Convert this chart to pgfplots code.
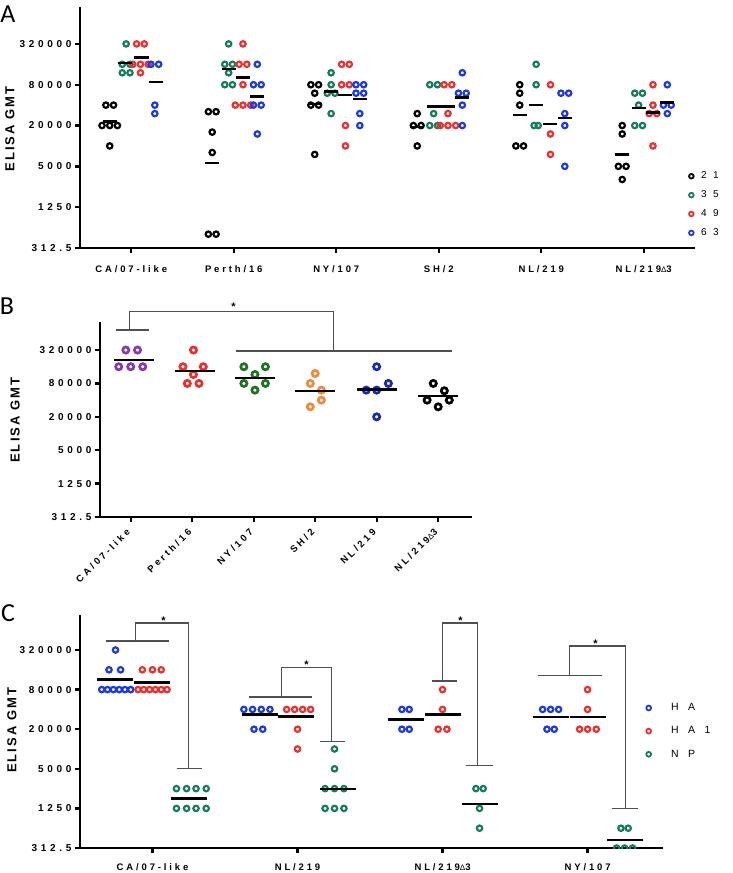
\documentclass[border=0pt]{standalone}
\usepackage{fontspec}
\setmainfont{Liberation Sans}
\newfontfamily\xtfont[LetterSpace=30]{Liberation Sans}
\newfontfamily\ytfont[LetterSpace=37]{Liberation Sans}
\newfontfamily\labfont[LetterSpace=16]{Liberation Sans}
\newfontfamily\legAfont[LetterSpace=65]{Liberation Sans}
\newfontfamily\legCfont[LetterSpace=90]{Liberation Sans}
\newfontfamily\panelfont{Carlito}
\usepackage{pgfplots}
\pgfplotsset{compat=1.18}

\definecolor{agreen}{RGB}{22,125,92}
\definecolor{ared}{RGB}{236,48,48}
\definecolor{ablue}{RGB}{28,58,226}
\definecolor{bpurple}{RGB}{136,58,176}
\definecolor{bgreen}{RGB}{26,116,32}
\definecolor{borange}{RGB}{242,138,62}
\definecolor{bblue}{RGB}{22,42,186}
\definecolor{brk}{RGB}{80,80,80}

\newcommand{\dlt}{{\mdseries\fontsize{8}{8}\selectfont Δ}}

\pgfplotsset{
  panel/.style={
    scale only axis,
    axis lines*=left,
    axis line style={line width=2.6pt, black},
    tick align=outside, major tick length=5pt,
    tick style={line width=2.3pt, black},
    minor tick num=0,
    ymin=312.5,
    ytick={312.5,1250,5000,20000,80000,320000},
    yticklabels={312.5,1250,5000,20000,80000,320000},
    yticklabel style={font=\ytfont\bfseries\fontsize{10}{12}\selectfont},
    xticklabel style={font=\xtfont\bfseries\fontsize{9.5}{11}\selectfont},
    ylabel={ELISA GMT},
    ylabel style={font=\labfont\bfseries\fontsize{13}{15}\selectfont, anchor=center},
    clip mode=individual,
  },
  dots/.style={only marks, mark=o, color=#1,
    mark size=2.7pt, mark options={line width=2.2pt, draw=#1}},
  bdots/.style={only marks, mark=o, color=#1,
    mark size=3.1pt, mark options={line width=2.7pt, draw=#1}},
  means/.style={only marks, mark=-, black, mark size=#1,
    mark options={line width=2.5pt, black}, forget plot},
}

\begin{document}
\begin{tikzpicture}
\useasboundingbox (0,0) rectangle (733pt,-873pt);

\node[font=\panelfont\fontsize{26}{26}\selectfont] at (8pt,-14pt) {A};
\node[font=\panelfont\fontsize{26}{26}\selectfont] at (7pt,-306pt) {B};
\node[font=\panelfont\fontsize{26}{26}\selectfont] at (8pt,-613pt) {C};

% ---------------- panel A
\begin{axis}[ymode=log, log basis y=2, panel,
  at={(80pt,-248pt)}, anchor=south west,
  width=615pt, height=241pt,
  xmin=0.5, xmax=6.5, ymax=1.12e6,
  xtick={1,2,3,4,5,6},
  xticklabels={CA/07-like, Perth/16, NY/107, SH/2, NL/219, NL/219\dlt3},
  xticklabel style={yshift=-9pt},
  ylabel style={at={(axis description cs:-0.114,0.494)}},
  legend cell align=left,
  legend image post style={mark size=2.3pt, mark options={line width=1.8pt}},
  legend style={at={(axis description cs:0.990,0.3245)}, anchor=north west,
    draw=none, fill=none, inner sep=0pt, row sep=6.4pt, column sep=5.5pt,
    font=\legAfont\fontsize{10}{12}\selectfont},
]
\addplot[dots=black] table {
0.7525 40000
0.8275 40000
0.715 20000
0.79 20000
0.865 20000
0.79 10000
1.7525 32000
1.8275 32000
1.79 16000
1.79 8000
1.7525 500
1.8275 500
2.7525 80000
2.8275 80000
2.79 60000
2.7525 40000
2.8275 40000
2.79 7500
3.79 30000
3.7525 20000
3.8275 20000
3.79 10000
4.79 80000
4.79 60000
4.79 40000
4.7525 10000
4.8275 10000
5.79 20000
5.79 15000
5.7525 5000
5.8275 5000
5.79 3200
};
\addplot[dots=agreen] table {
0.95 320000
0.9125 160000
0.9875 160000
0.9125 120000
0.9875 120000
1.95 320000
1.9125 160000
1.9875 160000
1.95 120000
1.9125 80000
1.9875 80000
2.95 120000
2.95 80000
2.9125 60000
2.9875 60000
2.95 30000
3.9125 80000
3.9875 80000
3.95 30000
3.9125 20000
3.9875 20000
4.95 160000
4.95 80000
4.93 20000
4.97 20000
5.9125 60000
5.9875 60000
5.95 40000
5.9125 20000
5.9875 20000
};
\addplot[dots=ared] table {
1.0525 320000
1.1275 320000
1.015 160000
1.09 160000
1.165 160000
1.09 120000
2.09 320000
2.0525 160000
2.1275 160000
2.09 80000
2.015 40000
2.09 40000
2.165 40000
3.0525 160000
3.1275 160000
3.0525 80000
3.1275 80000
3.09 20000
3.09 10000
4.0525 80000
4.1275 80000
4.09 30000
4.015 20000
4.09 20000
4.165 20000
5.09 80000
5.09 15000
5.09 7500
6.09 80000
6.09 40000
6.0525 30000
6.1275 30000
6.09 10000
};
\addplot[dots=ablue] table {
1.1925 160000
1.2675 160000
1.23 40000
1.23 30000
2.23 160000
2.1925 80000
2.2675 80000
2.1925 40000
2.2675 40000
2.23 15000
3.1925 80000
3.2675 80000
3.1925 60000
3.2675 60000
3.23 30000
3.23 20000
4.23 120000
4.1925 60000
4.2675 60000
4.23 40000
4.23 20000
5.1925 60000
5.2675 60000
5.23 30000
5.23 20000
5.23 5000
6.23 80000
6.1925 40000
6.2675 40000
6.23 30000
};
\addplot[means=7pt] table {
0.79 23000
1.79 5600
2.79 41400
3.79 19000
4.79 28800
5.79 7500
0.94 166000
1.95 137000
2.95 63600
3.95 38100
4.95 40000
5.95 36100
1.10 202000
2.09 102000
3.09 56600
4.09 38100
5.09 21000
6.09 31200
1.24 88000
2.23 54000
3.23 48900
4.23 51800
5.23 25700
6.23 43800
};
\legend{21,35,49,63}
\end{axis}

% ---------------- panel B
\begin{axis}[ymode=log, log basis y=2, panel,
  at={(100pt,-517pt)}, anchor=south west,
  width=372pt, height=195pt,
  xmin=0.5, xmax=6.55, ymax=1.025e6,
  xtick={1,2,3,4,5,6},
  xticklabels={CA/07-like, Perth/16, NY/107, SH/2, NL/219, NL/219\dlt3},
  xticklabel style={yshift=-6pt, rotate=45, anchor=east},
  ylabel style={at={(axis description cs:-0.228,0.497)}},
]
\addplot[bdots=bpurple] table {
0.92 320000
1.11 320000
0.805 160000
1.0 160000
1.195 160000
};
\addplot[bdots=ared] table {
2.02 320000
1.85 160000
2.18 160000
2.02 116000
1.92 80000
2.11 80000
};
\addplot[bdots=bgreen] table {
2.84 160000
3.19 160000
3.02 116000
2.84 80000
3.19 80000
3.02 60600
};
\addplot[bdots=borange] table {
4.0 121000
3.92 80000
4.1 60600
4.1 40000
3.92 30300
};
\addplot[bdots=bblue] table {
5.0 160000
5.19 80000
4.83 60600
5.0 60600
5.0 20000
};
\addplot[bdots=black] table {
5.92 80000
6.1 59000
5.82 40000
6.18 40000
6.0 30300
};
\addplot[means=20pt] table {
1.05 211000
2.05 135000
3.02 101000
4.0 58000
5.0 62300
6.0 47200
};
\draw[brk, line width=1.1pt] (axis cs:0.756,734000) -- (axis cs:1.292,734000);
\draw[brk, line width=1.1pt] (axis cs:0.984,734000) -- (axis cs:0.984,1.61e6)
  -- (axis cs:4.295,1.61e6) -- (axis cs:4.295,307000);
\draw[brk, line width=1.1pt] (axis cs:2.705,307000) -- (axis cs:6.227,307000);
\node[font=\bfseries\fontsize{11}{11}\selectfont, anchor=south, inner sep=0pt]
  at (axis cs:2.67,1.61e6) {*};
\end{axis}

% ---------------- panel C
\begin{axis}[ymode=log, log basis y=2, panel,
  at={(80pt,-848pt)}, anchor=south west,
  width=583pt, height=233pt,
  xmin=0.5, xmax=4.52, ymax=1.09e6,
  xtick={1,2,3,4},
  xticklabels={CA/07-like, NL/219, NL/219\dlt3, NY/107},
  xticklabel style={yshift=-7.5pt},
  ylabel style={at={(axis description cs:-0.117,0.506)}},
  clip marker paths=true,
  legend cell align=left,
  legend image post style={mark size=2.4pt, mark options={line width=1.8pt}},
  legend style={at={(axis description cs:0.971,0.629)}, anchor=north west,
    draw=none, fill=none, inner sep=0pt, row sep=10.4pt, column sep=18pt,
    font=\legCfont\fontsize{10.5}{12}\selectfont},
]
\addplot[dots=ablue] table {
0.745 320000
0.70 160000
0.78 160000
0.65 80000
0.69 80000
0.73 80000
0.77 80000
0.81 80000
0.85 80000
1.63 40000
1.69 40000
1.75 40000
1.81 40000
1.70 20000
1.76 20000
2.72 40000
2.77 40000
2.72 20000
2.77 20000
3.69 40000
3.745 40000
3.80 40000
3.72 20000
3.77 20000
};
\addplot[dots=ared] table {
0.93 160000
1.0 160000
1.06 160000
0.90 80000
0.94 80000
0.98 80000
1.02 80000
1.06 80000
1.10 80000
1.925 40000
1.98 40000
2.035 40000
2.09 40000
2.0 20000
2.0 10000
3.0 80000
3.0 40000
2.97 20000
3.03 20000
4.0 80000
4.0 40000
3.945 20000
4.0 20000
4.06 20000
};
\addplot[dots=agreen] table {
1.165 2500
1.235 2500
1.30 2500
1.37 2500
1.165 1250
1.235 1250
1.30 1250
1.37 1250
2.255 10000
2.255 5000
2.19 2500
2.255 2500
2.32 2500
2.19 1250
2.255 1250
2.32 1250
3.23 2500
3.28 2500
3.255 1250
3.255 625
4.23 625
4.28 625
4.2 312.5
4.255 312.5
4.31 312.5
};
\addplot[means=18pt] table {
0.74 114000
0.995 103000
1.255 1770
1.74 33600
1.99 31000
2.28 2480
2.745 28100
3.0 33600
3.255 1470
3.745 30600
4.0 30600
4.26 416
};
\legend{HA,HA1,NP}
\draw[brk, line width=1.1pt] (axis cs:0.676,438000) -- (axis cs:1.117,438000);
\draw[brk, line width=1.1pt] (axis cs:0.883,438000) -- (axis cs:0.883,825000)
  -- (axis cs:1.248,825000) -- (axis cs:1.248,5100);
\draw[brk, line width=1.1pt] (axis cs:1.166,5100) -- (axis cs:1.338,5100);
\draw[brk, line width=1.1pt] (axis cs:1.662,61700) -- (axis cs:2.103,61700);
\draw[brk, line width=1.1pt] (axis cs:1.89,61700) -- (axis cs:1.89,176000)
  -- (axis cs:2.234,176000) -- (axis cs:2.234,13100);
\draw[brk, line width=1.1pt] (axis cs:2.152,13100) -- (axis cs:2.324,13100);
\draw[brk, line width=1.1pt] (axis cs:2.924,108000) -- (axis cs:3.097,108000);
\draw[brk, line width=1.1pt] (axis cs:3.0,108000) -- (axis cs:3.0,825000)
  -- (axis cs:3.241,825000) -- (axis cs:3.241,5670);
\draw[brk, line width=1.1pt] (axis cs:3.159,5670) -- (axis cs:3.345,5670);
\draw[brk, line width=1.1pt] (axis cs:3.655,133000) -- (axis cs:4.097,133000);
\draw[brk, line width=1.1pt] (axis cs:3.876,133000) -- (axis cs:3.876,368000)
  -- (axis cs:4.262,368000) -- (axis cs:4.262,1260);
\draw[brk, line width=1.1pt] (axis cs:4.166,1260) -- (axis cs:4.345,1260);
\node[font=\bfseries\fontsize{11}{11}\selectfont, anchor=south, inner sep=0pt, yshift=-2pt]
  at (axis cs:1.076,825000) {*};
\node[font=\bfseries\fontsize{11}{11}\selectfont, anchor=south, inner sep=0pt, yshift=-2pt]
  at (axis cs:2.062,176000) {*};
\node[font=\bfseries\fontsize{11}{11}\selectfont, anchor=south, inner sep=0pt, yshift=-2pt]
  at (axis cs:3.124,825000) {*};
\node[font=\bfseries\fontsize{11}{11}\selectfont, anchor=south, inner sep=0pt, yshift=-2pt]
  at (axis cs:4.055,368000) {*};
\end{axis}
\end{tikzpicture}
\end{document}
